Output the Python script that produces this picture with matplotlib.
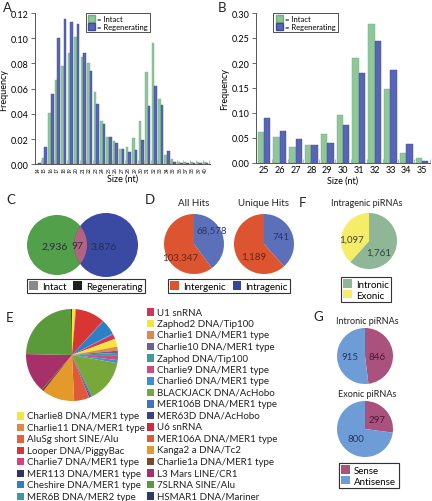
import numpy as np
import matplotlib
matplotlib.use('Agg')
import matplotlib.pyplot as plt
from matplotlib.patches import Patch, Circle, Rectangle

plt.rcParams['font.family'] = ['Lato', 'DejaVu Sans']

W, H = 432, 502

# A: size distribution of all small RNAs
sizes_a = np.arange(14, 41)
intact_a = [0.000, 0.005, 0.041, 0.067, 0.078, 0.0885, 0.101, 0.085, 0.080, 0.057,
            0.034, 0.022, 0.0187, 0.012, 0.0134, 0.0205, 0.034, 0.073, 0.096, 0.052,
            0.0074, 0.004, 0.002, 0.002, 0.002, 0.002, 0.002]
regen_a = [0.001, 0.014, 0.056, 0.100, 0.115, 0.113, 0.111, 0.088, 0.074, 0.048,
           0.032, 0.022, 0.017, 0.0125, 0.010, 0.011, 0.0195, 0.046, 0.062, 0.047,
           0.0103, 0.002, 0.001, 0.001, 0.001, 0.001, 0.001]

# B: size distribution of piRNAs
sizes_b = np.arange(25, 36)
intact_b = [0.063, 0.052, 0.033, 0.037, 0.058, 0.097, 0.211, 0.279, 0.148, 0.020, 0.011]
regen_b = [0.090, 0.065, 0.049, 0.037, 0.041, 0.077, 0.181, 0.245, 0.187, 0.039, 0.005]

# C: venn counts
venn_counts = [2936, 97, 3876]

# D: intergenic / intragenic hits
all_hits = [68578, 103347]      # intragenic, intergenic
unique_hits = [741, 1189]

# F: intragenic piRNAs
intragenic = [1761, 1097]       # intronic, exonic

# G: sense / antisense
intronic_sa = [846, 915]        # sense, antisense
exonic_sa = [297, 800]

# E: repeat classes (% share, pie order)
rep_names = ['Charlie8 DNA/MER1 type', 'Charlie11 DNA/MER1 type', 'AluSg short SINE/Alu',
             'Looper DNA/PiggyBac', 'Charlie7 DNA/MER1 type', 'MER113 DNA/MER1 type',
             'Cheshire DNA/MER1 type', 'MER6B DNA/MER2 type',
             'U1 snRNA', 'Zaphod2 DNA/Tip100', 'Charlie1 DNA/MER1 type', 'Charlie10 DNA/MER1 type',
             'Zaphod DNA/Tip100', 'Charlie9 DNA/MER1 type', 'Charlie6 DNA/MER1 type',
             'BLACKJACK DNA/AcHobo', 'MER106B DNA/MER1 type', 'MER63D DNA/AcHobo', 'U6 snRNA',
             'MER106A DNA/MER1 type', 'Kanga2 a DNA/Tc2', 'Charlie1a DNA/MER1 type',
             'L3 Mars LINE/CR1', '7SLRNA SINE/Alu', 'HSMAR1 DNA/Mariner']
rep_share = [1.1, 0.15, 0.15, 10.3, 0.15, 0.15, 5.3, 0.3,
             1.7, 2.8, 1.4, 0.8, 0.8, 1.7, 1.1,
             15.0, 0.55, 0.4, 0.15, 5.3, 11.4, 0.8, 13.9, 24.3, 0.4]
rep_colors = ['#f7e63a', '#e0893f', '#e2623c', '#d83535', '#d6437c', '#2e3560',
              '#2f7fc6', '#3a9aa8',
              '#d3345a', '#f6e43c', '#df874c', '#6b5f9a', '#3f9aa0', '#d04b7e', '#3b8fd6',
              '#79a83a', '#3f73c4', '#3d3f8f', '#d2293f', '#e05a3a', '#e39a2a', '#7a4a2a',
              '#a8306a', '#5a9a3a', '#2b3a67']

green, blue = '#8fc79a', '#5865b5'
txt = '#222222'

fig = plt.figure(figsize=(W / 100, H / 100), dpi=100)


def size_axes(ax, xs, a, b, lo, hi, ymax, ystep, lab_size, rot):
    ax.bar(xs - 0.2, a, width=0.4, color=green, edgecolor='#74ad80', linewidth=0.3)
    ax.bar(xs + 0.2, b, width=0.4, color=blue, edgecolor='#3f4b9c', linewidth=0.3)
    ax.set_xlim(lo, hi)
    ax.set_ylim(0, ymax)
    ax.set_yticks(np.arange(0, ymax + 1e-9, ystep))
    ax.set_yticklabels([f'{v:.2f}' for v in np.arange(0, ymax + 1e-9, ystep)], fontsize=6.5)
    ax.set_xticks(xs)
    ax.set_xticklabels([str(s) for s in xs], fontsize=lab_size, rotation=rot)
    ax.set_xticks(xs + 0.5, minor=True)
    ax.tick_params(axis='x', which='major', length=0, pad=1.5)
    ax.tick_params(axis='x', which='minor', direction='in', length=3, color='#aaaaaa')
    ax.tick_params(axis='y', length=3, width=0.6, pad=1.5, color='#555555')
    for s in ['top', 'right']:
        ax.spines[s].set_visible(False)
    for s in ['left', 'bottom']:
        ax.spines[s].set_linewidth(0.7)
        ax.spines[s].set_color('#555555')
    ax.set_ylabel('Frequency', fontsize=6.5, labelpad=2)
    ax.set_xlabel('Size (nt)', fontsize=6.5, labelpad=1)
    ax.legend([Patch(facecolor=green, edgecolor='#74ad80'), Patch(facecolor=blue, edgecolor='#3f4b9c')],
              ['= Intact', '= Regenerating'], loc='upper left', bbox_to_anchor=(0.29, 1.0),
              fontsize=5.5, fancybox=False, edgecolor='#333333', framealpha=1,
              handlelength=0.9, handleheight=1.0, handletextpad=0.3, labelspacing=0.1,
              borderpad=0.3, borderaxespad=0).get_frame().set_linewidth(0.6)


axA = fig.add_axes([35 / W, 1 - 165.3 / H, 175 / W, 151.3 / H])
size_axes(axA, sizes_a, intact_a, regen_a, 13.53, 40.66, 0.12, 0.02, 3.5, 90)
axB = fig.add_axes([256 / W, 1 - 164 / H, 174 / W, 150 / H])
size_axes(axB, sizes_b, intact_b, regen_b, 24.5, 35.46, 0.30, 0.05, 6.5, 0)
axB.get_legend().set_bbox_to_anchor((0.1, 1.0))

# overlay axes in pixel units (y up)
ov = fig.add_axes([0, 0, 1, 1])
ov.set_xlim(0, W)
ov.set_ylim(0, H)


def Y(y):
    return H - y


def pie(vals, cols, cx, cy, r):
    ov.pie(vals, colors=cols, startangle=90, counterclock=False, center=(cx, Y(cy)),
           radius=r, frame=True, wedgeprops=dict(linewidth=0))


def box_legend(labels, colors, x, y, ncol=1):
    handles = [Patch(facecolor=c, edgecolor='none') for c in colors]
    leg = ov.legend(handles, labels, loc='upper left', bbox_to_anchor=(x, Y(y)),
                    bbox_transform=ov.transData, ncol=ncol, fontsize=7, fancybox=False,
                    edgecolor='#333333', framealpha=1, borderpad=0.25, handlelength=0.9,
                    handleheight=0.9, handletextpad=0.4, labelspacing=0.15,
                    columnspacing=0.7, borderaxespad=0)
    leg.get_frame().set_linewidth(0.8)
    ov.add_artist(leg)


# C: venn
g_c = Circle((57, Y(246)), 30, facecolor='#52a04a', edgecolor='none')
b_c = Circle((106, Y(246)), 32, facecolor='#3a49a2', edgecolor='none')
ov.add_patch(g_c)
ov.add_patch(b_c)
lens = Circle((106, Y(246)), 32, facecolor='#b3637f', edgecolor='none')
ov.add_patch(lens)
lens.set_clip_path(g_c)
for xx, v in zip([55, 77, 104], venn_counts):
    ov.text(xx, Y(247), f'{v:,}', fontsize=7.5, ha='center', va='center', color='#2a2f40')
box_legend(['Intact', 'Regenerating'], ['#8a8a8a', '#1e1e1e'], 27, 280, ncol=2)

# D
red_d, blue_d = '#dd5431', '#5b70b9'
pie(all_hits, [blue_d, red_d], 194, 245, 30)
pie(unique_hits, [blue_d, red_d], 264, 245, 30)
ov.text(194, Y(203), 'All Hits', fontsize=7, ha='center', va='center', color=txt)
ov.text(264, Y(203), 'Unique Hits', fontsize=7, ha='center', va='center', color=txt)
ov.text(212, Y(231), f'{all_hits[0]:,}', fontsize=7, ha='center', va='center', color='#2c3566')
ov.text(180, Y(258), f'{all_hits[1]:,}', fontsize=7, ha='center', va='center', color='#6a2415')
ov.text(281, Y(238), f'{unique_hits[0]:,}', fontsize=7, ha='center', va='center', color='#2c3566')
ov.text(254, Y(257), f'{unique_hits[1]:,}', fontsize=7, ha='center', va='center', color='#6a2415')
box_legend(['Intergenic', 'Intragenic'], [red_d, '#34479a'], 168, 280, ncol=2)

# F
pie(intragenic, ['#8fb696', '#f5ed68'], 369, 242, 28)
ov.text(367, Y(203), 'Intragenic piRNAs', fontsize=6.5, ha='center', va='center', color=txt)
ov.text(352, Y(240), f'{intragenic[1]:,}', fontsize=7, ha='center', va='center', color='#444433')
ov.text(379, Y(253), f'{intragenic[0]:,}', fontsize=7, ha='center', va='center', color='#2f4436')
box_legend(['Intronic', 'Exonic'], ['#8fb696', '#f5ed68'], 341, 278)

# G
sense_c, anti_c = '#ab517d', '#6d9cd7'
pie(intronic_sa, [sense_c, anti_c], 365, 357, 28)
pie(exonic_sa, [sense_c, anti_c], 365, 430, 28)
ov.text(367, Y(321), 'Intronic piRNAs', fontsize=6.5, ha='center', va='center', color=txt)
ov.text(367, Y(395), 'Exonic piRNAs', fontsize=6.5, ha='center', va='center', color=txt)
ov.text(350, Y(357), f'{intronic_sa[1]:,}', fontsize=7, ha='center', va='center', color='#2c3566')
ov.text(377, Y(357), f'{intronic_sa[0]:,}', fontsize=7, ha='center', va='center', color='#4a1a33')
ov.text(377, Y(421), f'{exonic_sa[0]:,}', fontsize=7, ha='center', va='center', color='#4a1a33')
ov.text(356, Y(440), f'{exonic_sa[1]:,}', fontsize=7, ha='center', va='center', color='#2c3566')
box_legend(['Sense', 'Antisense'], [sense_c, anti_c], 339, 464)

# E: repeats pie and its two-column legend
pie(rep_share, rep_colors, 72, 356, 46)
for i, (name, col) in enumerate(zip(rep_names, rep_colors)):
    if i < 8:
        x0, y0 = 17, 417 + 11.45 * i
    else:
        x0, y0 = 147, 313 + 11.5 * (i - 8)
    ov.add_patch(Rectangle((x0, Y(y0) - 3.6), 7.2, 7.2, facecolor=col, edgecolor='none'))
    ov.text(x0 + 10, Y(y0), name, fontsize=7, ha='left', va='center', color=txt)

# panel letters
for lab, xx, yy in [('A', 7, 8), ('B', 222, 8), ('C', 11, 200), ('D', 150, 200),
                    ('E', 10, 318), ('F', 303, 203), ('G', 318, 317)]:
    ov.text(xx, Y(yy), lab, fontsize=9.5, ha='center', va='center', color=txt)

ov.set_xlim(0, W)
ov.set_ylim(0, H)
ov.set_axis_off()

fig.savefig('out.png', dpi=100)
